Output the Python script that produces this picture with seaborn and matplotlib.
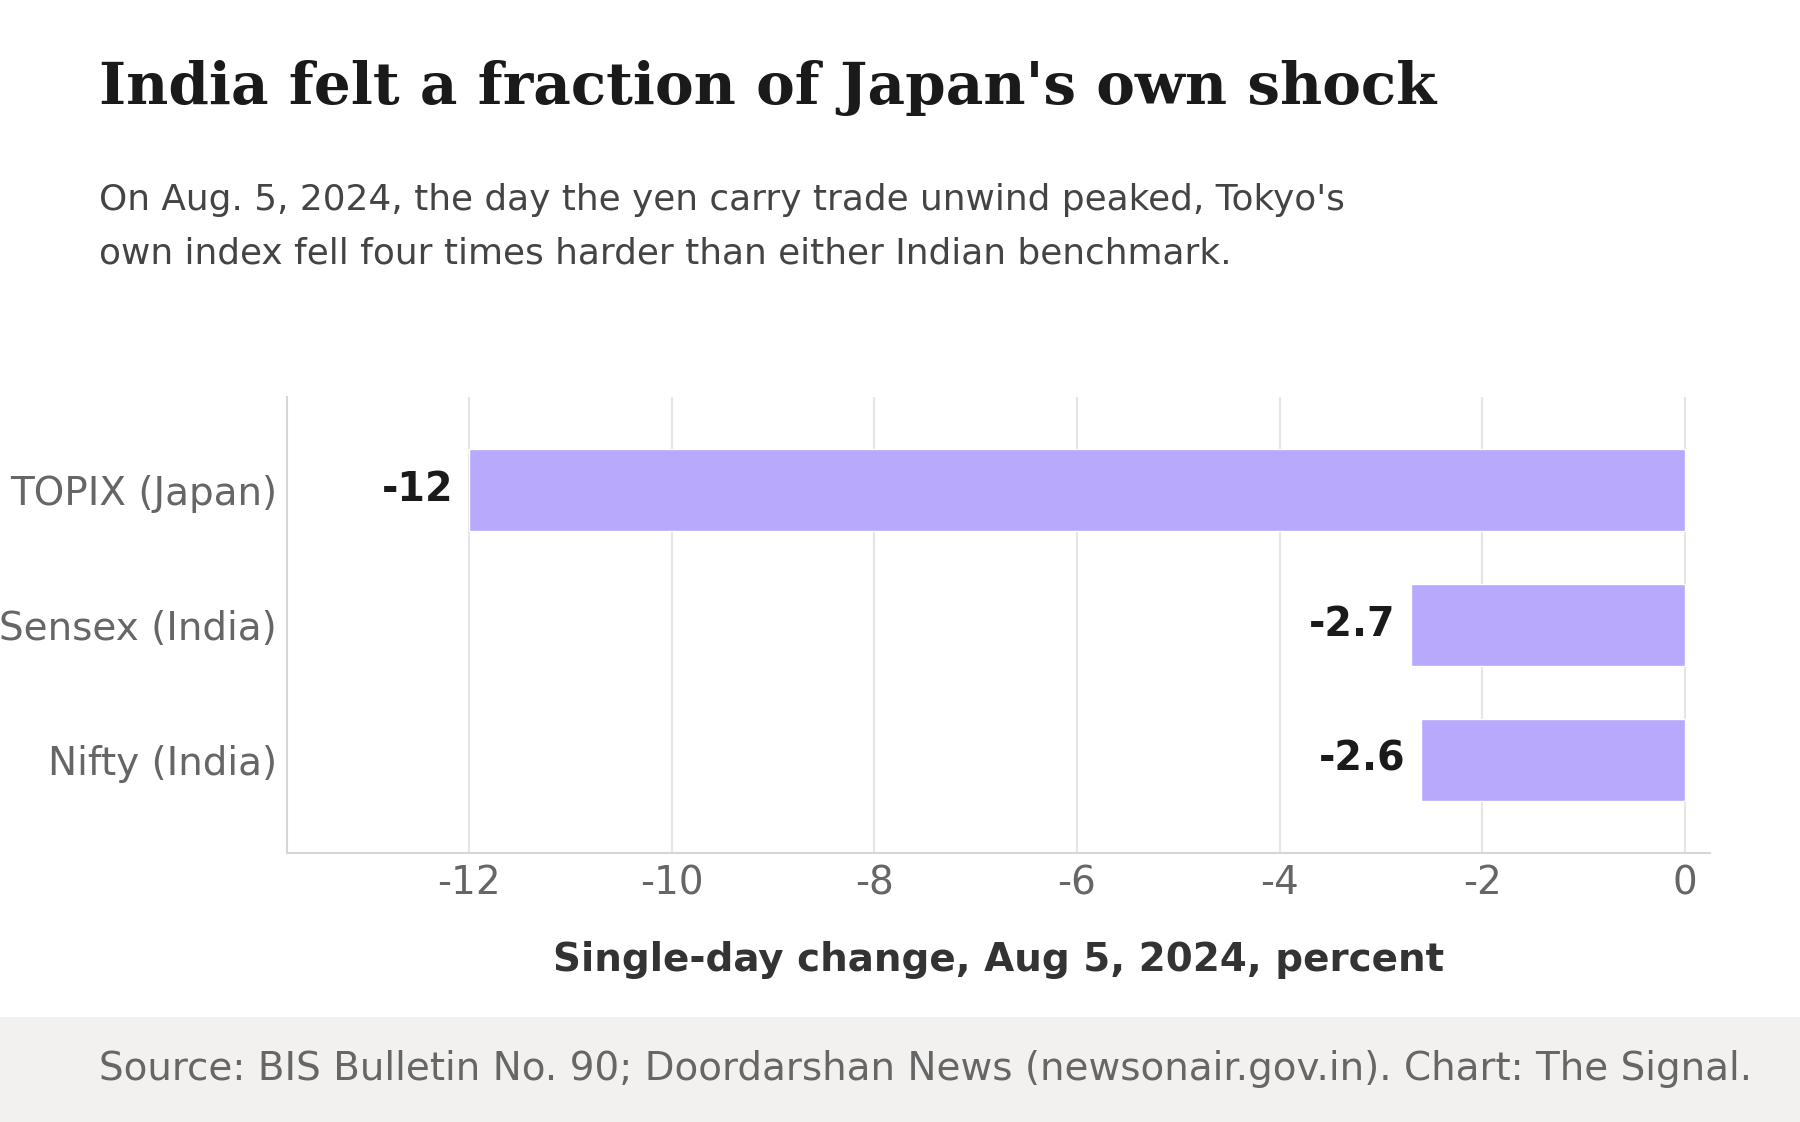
import matplotlib
matplotlib.use("Agg")
import matplotlib.pyplot as plt
from matplotlib.patches import Rectangle
import seaborn as sns

indices = ["TOPIX (Japan)", "Sensex (India)", "Nifty (India)"]
change_pct = [-12.0, -2.7, -2.6]
value_labels = ["-12", "-2.7", "-2.6"]
xticks = [-12, -10, -8, -6, -4, -2, 0]

sns.set_theme(style="white")
plt.rcParams["font.family"] = ["DejaVu Sans"]

fig = plt.figure(figsize=(18, 11.22), dpi=100)
fig.patch.set_facecolor("white")
ax = fig.add_axes([0.1594, 0.2398, 0.7906, 0.4064])

sns.barplot(x=change_pct, y=indices, orient="h", color="#b8a9fc",
            saturation=1, width=0.61, ax=ax, zorder=2)

ax.set_xlim(-13.8, 0.25)
ax.set_ylim(2.69, -0.69)
ax.set_xticks(xticks)
ax.set_xticklabels([str(t) for t in xticks])
ax.xaxis.grid(True, color="#e6e6e4", linewidth=1.5, zorder=0)
ax.set_axisbelow(True)
ax.tick_params(axis="both", length=0, labelsize=28, labelcolor="#666666")
ax.tick_params(axis="x", pad=8)
ax.tick_params(axis="y", pad=7)
for s in ["top", "right"]:
    ax.spines[s].set_visible(False)
for s in ["left", "bottom"]:
    ax.spines[s].set_color("#d6d6d2")
    ax.spines[s].set_linewidth(1.5)

for i, (v, lab) in enumerate(zip(change_pct, value_labels)):
    ax.annotate(lab, xy=(v, i), xytext=(-11.5, 0), textcoords="offset points",
                ha="right", va="center", fontsize=28.5, fontweight="bold", color="#1a1a1a")

ax.set_xlabel("Single-day change, Aug 5, 2024, percent", fontsize=28,
              fontweight="bold", color="#333333", labelpad=28)
ax.set_ylabel("")

fig.text(0.055, 0.9075, "India felt a fraction of Japan's own shock",
         fontsize=41.8, fontweight="bold", family="DejaVu Serif", color="#1a1a1a", va="baseline")
fig.text(0.055, 0.8128, "On Aug. 5, 2024, the day the yen carry trade unwind peaked, Tokyo's",
         fontsize=25.8, color="#444444", va="baseline")
fig.text(0.055, 0.7655, "own index fell four times harder than either Indian benchmark.",
         fontsize=25.8, color="#444444", va="baseline")

fig.patches.append(Rectangle((0, 0), 1, 0.0936, transform=fig.transFigure,
                             facecolor="#f2f1ef", edgecolor="none", zorder=0))
fig.text(0.055, 0.037,
         "Source: BIS Bulletin No. 90; Doordarshan News (newsonair.gov.in). Chart: The Signal.",
         fontsize=28, color="#666666", va="baseline")

fig.savefig("out.png", dpi=100)
